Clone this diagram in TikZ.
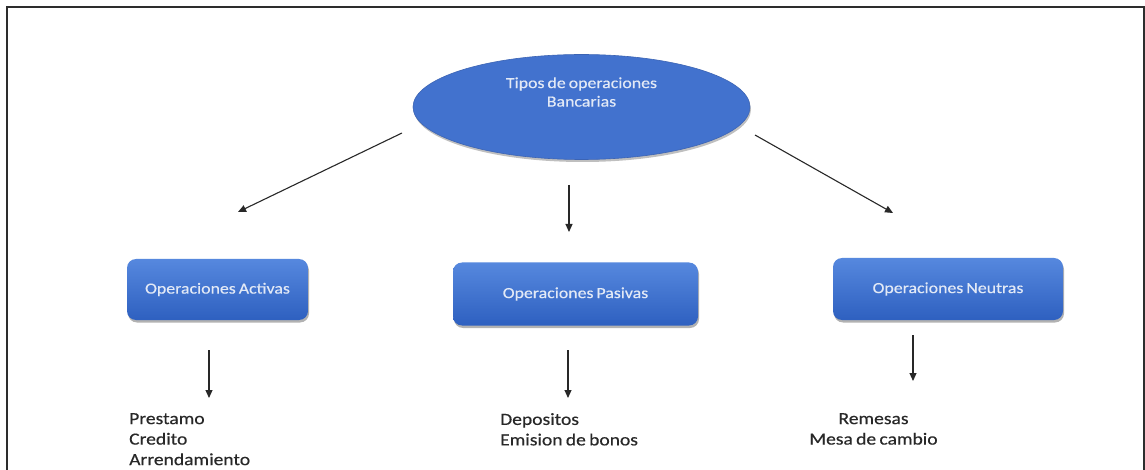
\documentclass[tikz,border=0pt]{standalone}
\usepackage{fontspec}
\setmainfont{Carlito}[FakeStretch=1.15, WordSpace=0.75, FakeBold=0.4]
\usetikzlibrary{shapes.geometric,shadows,arrows.meta}
\definecolor{bluetop}{RGB}{86,136,222}
\definecolor{bluebot}{RGB}{46,96,192}
\definecolor{ellfill}{RGB}{66,114,206}
\definecolor{ellline}{RGB}{60,100,180}
\definecolor{txtlight}{RGB}{226,233,246}
\definecolor{txtdark}{RGB}{40,40,40}
\definecolor{framecol}{RGB}{45,45,45}
\definecolor{arrowcol}{RGB}{40,40,40}
\begin{document}
\begin{tikzpicture}[x=1pt,y=-1pt,
  opbox/.style={rectangle, rounded corners=9pt, inner sep=0pt,
    top color=bluetop, bottom color=bluebot, draw=none,
    text=txtlight, font=\fontsize{15.5}{18}\selectfont,
    drop shadow={shadow xshift=1pt, shadow yshift=-2.5pt, opacity=0.3, fill=black}},
  rootell/.style={ellipse, inner sep=0pt, fill=ellfill, draw=ellline, line width=0.6pt,
    minimum width=337pt, minimum height=105pt,
    drop shadow={shadow xshift=1pt, shadow yshift=-2.5pt, opacity=0.25, fill=black}},
  roottxt/.style={text=txtlight, font=\fontsize{15.5}{18.5}\selectfont, align=center},
  itemtxt/.style={text=txtdark, font=\fontsize{17}{20.5}\selectfont, inner sep=0pt},
  conn/.style={draw=arrowcol, line width=1.1pt, -{Triangle[length=8pt,width=7pt]}}
]
\useasboundingbox (0,0) rectangle (1145,470);
\fill[white] (0,0) rectangle (1145,470);
% frame
\draw[framecol, line width=2pt] (7,475) -- (7,7) -- (1143.5,7) -- (1143.5,475);

% root
\node[rootell] (root) at (581.5,107) {};
\node[roottxt] (roottext) at (581.5,92) {Tipos de operaciones\\Bancarias};

% boxes
\node[opbox, minimum width=181pt, minimum height=61pt] (act) at (217.5,289.5) {Operaciones Activas};
\node[opbox, minimum width=245pt, minimum height=63pt] (pas) at (575.5,294) {Operaciones Pasivas};
\node[opbox, minimum width=230pt, minimum height=62pt] (neu) at (948,289) {Operaciones Neutras};

% top arrows
\coordinate (a1s) at (402,133);
\coordinate (a1e) at (238,212);
\coordinate (a2s) at (569,185);
\coordinate (a2e) at (569,232);
\coordinate (a3s) at (755,135);
\coordinate (a3e) at (893,213);
\draw[conn] (a1s) -- (a1e);
\draw[conn] (a2s) -- (a2e);
\draw[conn] (a3s) -- (a3e);

% lower arrows
\coordinate (b1s) at (209,350);
\coordinate (b1e) at (209,398);
\coordinate (b2s) at (568,350);
\coordinate (b2e) at (568,398);
\coordinate (b3s) at (913,335);
\coordinate (b3e) at (913,381);
\draw[conn] (b1s) -- (b1e);
\draw[conn] (b2s) -- (b2e);
\draw[conn] (b3s) -- (b3e);

% item lists
\node[itemtxt, align=left, anchor=north west] (actitems) at (129,413) {Prestamo\\Credito\\Arrendamiento};
\node[itemtxt, align=left, anchor=north west] (pasitems) at (500,413) {Depositos\\Emision de bonos};
\node[itemtxt, align=center, anchor=north] (neuitems) at (873.5,413) {Remesas\\Mesa de cambio};
\end{tikzpicture}
\end{document}
